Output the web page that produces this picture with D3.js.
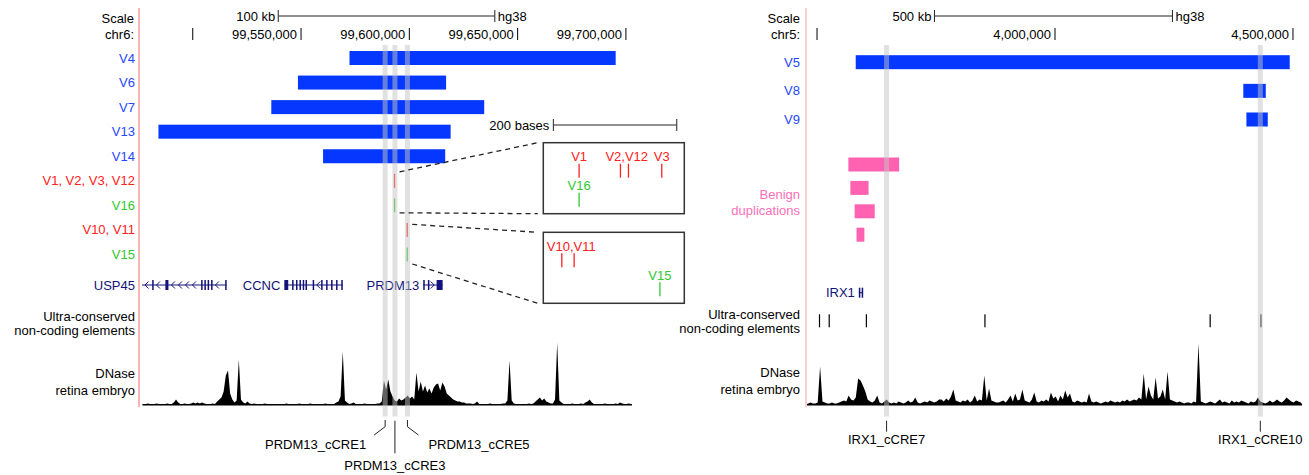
<!DOCTYPE html>
<html>
<head>
<meta charset="utf-8">
<script src="https://cdn.jsdelivr.net/npm/d3@7"></script>
<style>
  body { margin: 0; background: #fff; }
  svg text { font-family: "Liberation Sans", Arial, Helvetica, sans-serif; font-size: 13px; }
</style>
</head>
<body>
<svg id="fig" width="1309" height="475"></svg>
<script>
// ---------- left panel data (chr6, PRDM13 locus) ----------
var leftNames = ["V4", "V6", "V7", "V13", "V14"];
var leftStarts = [99572600, 99548800, 99536500, 99484400, 99560400];
var leftEnds = [99695500, 99617200, 99634800, 99619300, 99616800];

var snvLabels = ["V1, V2, V3, V12", "V16", "V10, V11", "V15"];
var snvPos = [99593400, 99593400, 99599260, 99599260];
var snvGroup = [1, 2, 1, 2];

var leftTicks = [99500000, 99550000, 99600000, 99650000, 99700000];
var leftCres = ["PRDM13_cCRE1", "PRDM13_cCRE3", "PRDM13_cCRE5"];
var leftCrePos = [99589060, 99593580, 99599350];

var leftGenes = [
  { name: "USP45", strand: "-", start: 99476800, end: 99515830,
    exons: [[99481500, 99482100], [99487600, 99489000], [99504100, 99504700], [99505600, 99506200],
            [99507100, 99507700], [99508700, 99509300], [99515200, 99515830]] },
  { name: "CCNC", strand: "-", start: 99542520, end: 99569390,
    exons: [[99542520, 99544320], [99546100, 99546700], [99547900, 99548500], [99549500, 99550100],
            [99551000, 99551600], [99552300, 99552900], [99555600, 99556100], [99559500, 99560100],
            [99561800, 99562400], [99564100, 99564700], [99566400, 99567000], [99568800, 99569390]] },
  { name: "PRDM13", strand: "+", start: 99606650, end: 99615600,
    exons: [[99606650, 99607250], [99608800, 99609400], [99612830, 99615600]] }
];

// DNase retina embryo, 1 kb bins from 99,477,000
var leftDnaseStart = 99477000;
var leftDnase = [
  1,1,2,1,1,1,2,1,1,1, 1,2,1,1,3,6,3,1,1,2, 1,1,2,3,2,3,2,3,2,1, 1,1,2,1,4,6,8,14,30,35,
  12,6,3,5,46,6,3,2,4,2, 1,2,1,1,1,1,2,1,1,1, 1,1,1,1,1,1,2,1,1,1, 1,1,2,1,1,1,1,2,1,1,
  1,1,1,1,2,1,1,1,1,3, 4,9,54,5,3,1,2,3,1,1, 1,1,2,1,1,1,1,1,2,2, 4,25,16,26,14,9,5,4,7,5,
  6,8,10,7,9,6,33,14,24,14, 20,13,17,12,18,21,22,15,23,19, 12,10,8,6,5,4,4,3,3,2, 2,2,1,2,4,1,1,1,1,1,
  2,1,1,1,1,1,2,2,5,45, 5,2,1,1,1,1,1,1,2,1, 2,4,6,8,5,7,4,3,2,2, 6,63,5,3,1,1,1,1,2,1,
  1,1,2,1,3,4,6,3,1,1, 1,1,1,2,1,1,1,1,2,1, 3,2,1,1,2,1
];

// zoomed insets (bp offsets inside a ~230 bp window)
var inset1Tags = ["V1", "V2,V12", "V3", "V16"];
var inset1Sites = [[58], [125, 138], [192], [58]];
var inset1Row = [0, 0, 0, 1];
var inset1Group = [1, 1, 1, 2];
var inset2Tags = ["V10,V11", "V15"];
var inset2Sites = [[30, 50], [189]];
var inset2Row = [0, 1];
var inset2Group = [1, 2];

// ---------- right panel data (chr5, IRX1 locus) ----------
var rightNames = ["V5", "V8", "V9"];
var rightStarts = [3582400, 4396700, 4403200];
var rightEnds = [4494200, 4443900, 4448100];

var benignStarts = [3566900, 3571100, 3580100, 3584100];
var benignEnds = [3673600, 3609300, 3622300, 3600500];

var rightTicks = [3500000, 4000000, 4500000];
var rightCres = ["IRX1_cCRE7", "IRX1_cCRE10"];
var rightCrePos = [3647200, 4432400];

var uceStarts = [3505000, 3525400, 3603500, 3852600, 4325800, 4432500];
var uceEnds = [3507500, 3526200, 3604300, 3853400, 4326600, 4433300];

var rightGenes = [
  { name: "IRX1", strand: "+", start: 3588900, end: 3597100,
    exons: [[3588900, 3590700], [3594900, 3597100]] }
];

// DNase retina embryo, 5 kb bins from 3,480,000
var rightDnaseStart = 3480000;
var rightDnase = [
  2,3,2,2,3,39,4,3,2,2, 3,2,2,3,4,5,4,10,6,5, 8,27,25,20,14,6,4,3,5,10, 3,2,4,6,3,2,3,2,4,3,
  2,3,5,3,4,8,3,2,3,4, 3,5,4,3,4,6,6,4,7,5, 9,16,5,4,3,5,4,6,3,5, 10,4,6,5,30,5,17,5,4,3,
  3,4,5,3,6,10,4,12,5,6, 16,5,4,3,6,13,4,3,5,4, 6,4,13,7,9,4,10,6,15,8, 12,4,3,5,4,3,4,3,12,4,
  3,4,3,2,3,4,3,5,4,3, 4,3,5,4,6,4,5,6,5,8, 6,32,6,19,10,6,28,7,9,16, 6,34,6,5,4,3,4,3,2,3,
  3,2,4,3,62,4,3,2,3,4, 3,2,4,6,3,4,3,2,5,3, 4,3,5,4,3,2,4,3,4,8, 4,3,2,3,5,3,4,6,4,3,
  5,8,6,4,3,5,4,3
];

// ---------- styles ----------
var NAVY = "#12127a", BAR = "#0537ff", BLUE = "#2548ff";
var groupColor = { 1: "#ff2020", 2: "#2ec92e" };
var PINK_BAR = "#ff62b0", PINK_TXT = "#ff6fb8";

var svg = d3.select("#fig");

var xL = d3.scaleLinear().domain([99476800, 99703500]).range([142, 633]);
var xR = d3.scaleLinear().domain([3480000, 4520000]).range([807, 1302]);
var rowL = d3.scaleLinear().domain([0, 8]).range([58, 254.5]);
var rowR = d3.scaleLinear().domain([0, 2]).range([62.2, 119.5]);
var rowB = d3.scaleLinear().domain([0, 3]).range([164.5, 234.7]);
var yDn = d3.scaleLinear().domain([0, 65]).range([405.5, 340.5]);

function label(x, y, txt, color, anchor) {
  return svg.append("text")
    .attr("x", x).attr("y", y).attr("dy", "0.35em")
    .attr("text-anchor", anchor || "end")
    .attr("fill", color || "#000")
    .text(txt);
}

// pink divider between labels and tracks
svg.append("line").attr("x1", 139).attr("x2", 139).attr("y1", 8).attr("y2", 407)
  .attr("stroke", "#f8b4b4").attr("stroke-width", 2);
svg.append("line").attr("x1", 806).attr("x2", 806).attr("y1", 8).attr("y2", 407)
  .attr("stroke", "#ff9c9c").attr("stroke-width", 1);

// scale bar + chromosome ruler
function ruler(xs, labelX, chrom, barStart, barLen, barText, ticks) {
  label(labelX, 18.3, "Scale");
  label(labelX, 34.3, chrom);
  var x0 = xs(barStart), x1 = xs(barStart + barLen);
  var g = svg.append("g").attr("stroke", "#222").attr("stroke-width", 1);
  g.append("line").attr("x1", x0).attr("x2", x1).attr("y1", 16).attr("y2", 16);
  g.append("line").attr("x1", x0).attr("x2", x0).attr("y1", 10).attr("y2", 22);
  g.append("line").attr("x1", x1).attr("x2", x1).attr("y1", 10).attr("y2", 22);
  label(x0 - 3, 16.7, barText);
  label(x1 + 3, 16.7, "hg38", "#000", "start");

  var ax = d3.axisBottom(xs).tickValues(ticks).tickSize(12)
    .tickFormat(function (d, i) { return i === 0 ? "" : d3.format(",")(d); });
  var ga = svg.append("g").attr("transform", "translate(0,28)").call(ax);
  ga.select(".domain").remove();
  ga.selectAll(".tick line").attr("stroke", "#000");
  ga.selectAll(".tick text").attr("x", -4).attr("y", 6.3).attr("dy", "0.35em")
    .attr("text-anchor", "end").attr("fill", "#000");
}
ruler(xL, 134, "chr6:", 99539700, 100000, "100 kb", leftTicks);
ruler(xR, 800, "chr5:", 3747800, 500000, "500 kb", rightTicks);

// blue CNV bars
function cnvRows(xs, labelX, names, starts, ends, row) {
  names.forEach(function (n, i) {
    label(labelX, row(i), n, BLUE);
    svg.append("rect").attr("x", xs(starts[i])).attr("y", row(i) - 7)
      .attr("width", xs(ends[i]) - xs(starts[i])).attr("height", 14).attr("fill", BAR);
  });
}
cnvRows(xL, 135, leftNames, leftStarts, leftEnds, rowL);
cnvRows(xR, 800, rightNames, rightStarts, rightEnds, rowR);

// point variants in the left panel
snvLabels.forEach(function (n, i) {
  var r = i + 5;
  label(135, rowL(r), n, groupColor[snvGroup[i]]);
  svg.append("line").attr("x1", xL(snvPos[i])).attr("x2", xL(snvPos[i]))
    .attr("y1", rowL(r) - 7).attr("y2", rowL(r) + 7)
    .attr("stroke", groupColor[snvGroup[i]]).attr("stroke-width", 1.3);
});

// benign duplications
benignStarts.forEach(function (s, i) {
  svg.append("rect").attr("x", xR(s)).attr("y", rowB(i) - 7)
    .attr("width", xR(benignEnds[i]) - xR(s)).attr("height", 14).attr("fill", PINK_BAR);
});
label(800, 194.3, "Benign", PINK_TXT);
label(800, 210.7, "duplications", PINK_TXT);

// genes
function drawGenes(xs, genes, y, marginX) {
  genes.forEach(function (gn) {
    var g = svg.append("g").attr("stroke", NAVY).attr("fill", NAVY);
    var gx0 = xs(gn.start), gx1 = xs(gn.end);
    g.append("line").attr("x1", gx0).attr("x2", gx1).attr("y1", y).attr("y2", y).attr("stroke-width", 1);
    var ex = gn.exons.map(function (e) { return [xs(e[0]), xs(e[1])]; });
    var edges = [gx0].concat([].concat.apply([], ex)).concat([gx1]);
    for (var k = 0; k + 1 < edges.length; k += 2) {
      var a = edges[k], b = edges[k + 1];
      for (var x = a + 4; x < b - 3; x += 7) {
        var d = gn.strand === "-" ? 1 : -1;
        g.append("polyline")
          .attr("points", [[x + 2.5 * d, y - 3.5], [x - d, y], [x + 2.5 * d, y + 3.5]].join(" "))
          .attr("fill", "none").attr("stroke-width", 1);
      }
    }
    ex.forEach(function (e) {
      g.append("rect").attr("x", e[0]).attr("y", y - 5)
        .attr("width", Math.max(1.5, e[1] - e[0])).attr("height", 10).attr("stroke", "none");
    });
    var w = gn.name.length * 8;
    if (gx0 - 4 - w < xs.range()[0]) label(marginX, y, gn.name, NAVY);
    else label(gx0 - 4, y, gn.name, NAVY);
  });
}
drawGenes(xL, leftGenes, 285, 135);
drawGenes(xR, rightGenes, 292.7, 800);

// ultra-conserved elements
label(135, 316, "Ultra-conserved");
label(135, 330.5, "non-coding elements");
label(800, 314, "Ultra-conserved");
label(800, 328.3, "non-coding elements");
uceStarts.forEach(function (s, i) {
  svg.append("rect").attr("x", xR(s)).attr("y", 314.3)
    .attr("width", Math.max(1.2, xR(uceEnds[i]) - xR(s))).attr("height", 13).attr("fill", "#000");
});

// DNase signal
function dnase(xs, start, step, vals) {
  var pts = vals.map(function (v, i) { return [xs(start + (i + 0.5) * step), Math.max(v, 1.5)]; });
  pts.unshift([xs(start), 1.5]);
  pts.push([xs(start + vals.length * step), 1.5]);
  var area = d3.area().x(function (d) { return d[0]; })
    .y0(yDn(0)).y1(function (d) { return yDn(d[1]); });
  svg.append("path").datum(pts).attr("d", area).attr("fill", "#000");
}
dnase(xL, leftDnaseStart, 1000, leftDnase);
dnase(xR, rightDnaseStart, 5000, rightDnase);
label(135, 373.3, "DNase");
label(135, 390, "retina embryo");
label(800, 372.3, "DNase");
label(800, 389.3, "retina embryo");

// grey cCRE highlights
function highlights(xs, pos) {
  pos.forEach(function (p) {
    svg.append("rect").attr("x", xs(p) - 2.5).attr("y", 45).attr("width", 5).attr("height", 371.5)
      .attr("fill", "#c4c4c4").attr("opacity", 0.5);
  });
}
highlights(xL, leftCrePos);
highlights(xR, rightCrePos);

// cCRE labels, left
var lg = svg.append("g").attr("stroke", "#222").attr("fill", "none").attr("stroke-width", 1);
var c1 = xL(leftCrePos[0]), c3 = xL(leftCrePos[1]), c5 = xL(leftCrePos[2]);
lg.append("polyline").attr("points", [[c1, 420], [c1, 426.7], [c1 - 11, 435]].join(" "));
lg.append("line").attr("x1", c3).attr("x2", c3).attr("y1", 420.7).attr("y2", 453.3);
lg.append("polyline").attr("points", [[c5, 420], [c5, 426.7], [c5 + 11, 435]].join(" "));
label(c1 - 19, 444, leftCres[0]);
label(c3, 465.7, leftCres[1], "#000", "middle");
label(c5 + 21, 444, leftCres[2], "#000", "start");

// cCRE labels, right
rightCres.forEach(function (n, i) {
  var x = xR(rightCrePos[i]);
  svg.append("line").attr("x1", x).attr("x2", x).attr("y1", 420.7).attr("y2", 431.7)
    .attr("stroke", "#222").attr("stroke-width", 1);
  label(x, 439.3, n, "#000", "middle");
});

// zoom insets
var insetX = d3.scaleLinear().domain([0, 228.5]).range([543.3, 684.3]);
var insetTops = [142.7, 232.3], insetH = 71;

var sb0 = insetX(16.3), sb1 = insetX(216.3);
var sg = svg.append("g").attr("stroke", "#222").attr("stroke-width", 1);
sg.append("line").attr("x1", sb0).attr("x2", sb1).attr("y1", 125).attr("y2", 125);
sg.append("line").attr("x1", sb0).attr("x2", sb0).attr("y1", 119).attr("y2", 131);
sg.append("line").attr("x1", sb1).attr("x2", sb1).attr("y1", 119).attr("y2", 131);
label(sb0 - 4, 125, "200 bases");

function inset(top, tags, sites, rows, groups) {
  svg.append("rect").attr("x", insetX(0)).attr("y", top)
    .attr("width", insetX(228.5) - insetX(0)).attr("height", insetH)
    .attr("fill", "none").attr("stroke", "#333").attr("stroke-width", 1.5);
  tags.forEach(function (t, i) {
    var base = top + (rows[i] === 0 ? 0 : 29);
    var lx = sites[i].length > 1 ? insetX(sites[i][0]) - 15 : insetX(sites[i][0]);
    label(lx, base + 14, t, groupColor[groups[i]], sites[i].length > 1 ? "start" : "middle");
    sites[i].forEach(function (s) {
      svg.append("line").attr("x1", insetX(s)).attr("x2", insetX(s))
        .attr("y1", base + 21).attr("y2", base + 35)
        .attr("stroke", groupColor[groups[i]]).attr("stroke-width", 1.3);
    });
  });
}
inset(insetTops[0], inset1Tags, inset1Sites, inset1Row, inset1Group);
inset(insetTops[1], inset2Tags, inset2Sites, inset2Row, inset2Group);

// dashed connectors from the track ticks to the insets
var dg = svg.append("g").attr("stroke", "#222").attr("stroke-width", 1.3).attr("stroke-dasharray", "5,4");
[[0, -9, 0, 0], [1, 7.4, 0, insetH], [2, -5.6, 1, 0], [3, 9.5, 1, insetH]].forEach(function (c) {
  dg.append("line")
    .attr("x1", xL(snvPos[c[0]]) + 5).attr("y1", rowL(c[0] + 5) + c[1])
    .attr("x2", insetX(0) - 5.5).attr("y2", insetTops[c[2]] + c[3]);
});
</script>
</body>
</html>
